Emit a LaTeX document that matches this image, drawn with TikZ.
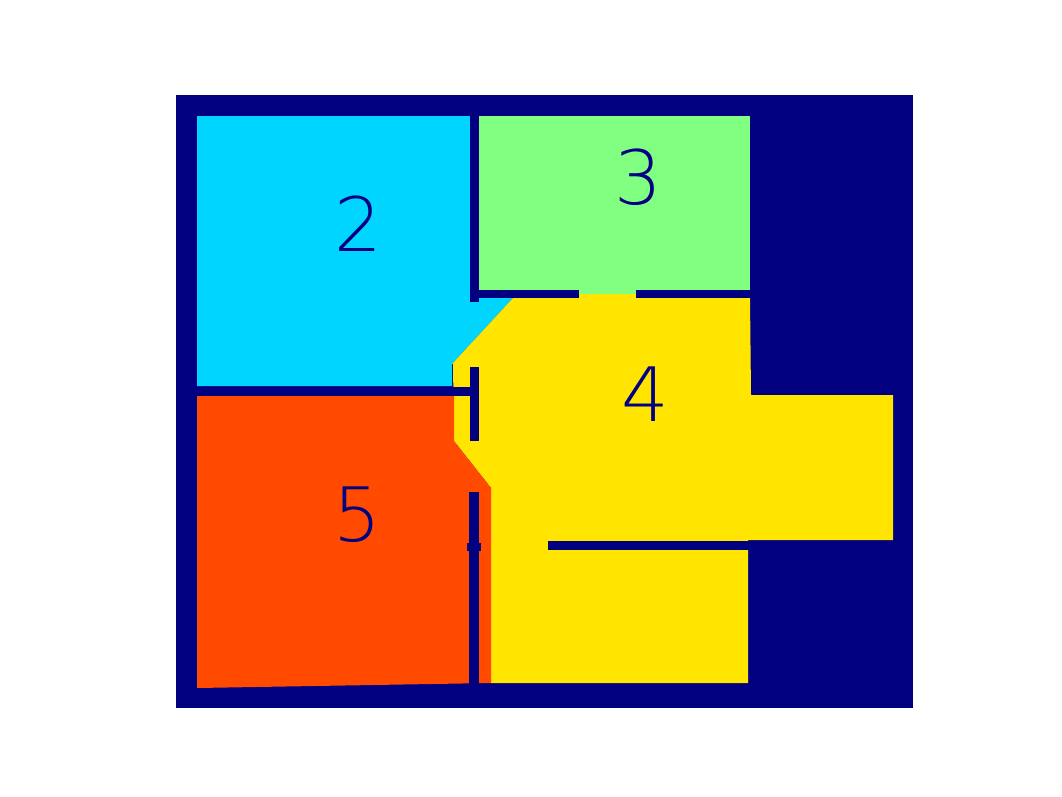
\documentclass[tikz,border=0pt]{standalone}
\usepackage{fontspec}
\newfontfamily\digitfont{DejaVu Sans ExtraLight}
\usepackage{tikz}
\definecolor{wallnavy}{RGB}{0,0,128}
\definecolor{roomcyan}{RGB}{0,213,255}
\definecolor{roomgreen}{RGB}{128,255,128}
\definecolor{roomyellow}{RGB}{255,229,0}
\definecolor{roomorange}{RGB}{255,74,0}
\begin{document}
\begin{tikzpicture}[x=1pt, y=-1pt, every node/.style={text=wallnavy, inner sep=0pt, font=\digitfont\fontsize{75}{75}\selectfont}]
                    \useasboundingbox (0,0) rectangle (1062,796);
                    % floor plan background (walls)
                    \fill[wallnavy] (176,95) rectangle (913,708);
                    % rooms
                    \fill[roomcyan] (197,116) -- (470,116) -- (470,298) -- (513,298) -- (452,364) -- (452,386) -- (197,386) -- cycle;
                    \fill[roomgreen] (479,116) rectangle (750,290);
                    \fill[roomgreen] (579,289) rectangle (636,294);
                    \fill[roomyellow] (513,298) -- (750,298) -- (751,395) -- (893,395) -- (893,540) -- (748,540) -- (748,683) -- (491,683) -- (491,488) -- (454,441) -- (453,364) -- (452,364) -- cycle;
                    \fill[roomyellow] (579,294) rectangle (636,298);
                    \fill[roomorange] (197,396) -- (454,396) -- (454,441) -- (491,488) -- (491,683) -- (197,688) -- cycle;
                    % inner walls
                    \fill[wallnavy] (470,116) rectangle (479,302);
                    \fill[wallnavy] (479,290) rectangle (579,298);
                    \fill[wallnavy] (636,290) rectangle (750,298);
                    \fill[wallnavy] (440,387) rectangle (470,396);
                    \fill[wallnavy] (470,367) rectangle (479,441);
                    \fill[wallnavy] (469,492) rectangle (479,690);
                    \fill[wallnavy] (467,543) rectangle (481,551);
                    \fill[wallnavy] (548,541) rectangle (757,550);
                    % room labels
                    \node (two) at (358,224) {2};
                    \node (three) at (638,177) {3};
                    \node (four) at (645,394) {4};
                    \node (five) at (357,515) {5};
                \end{tikzpicture}
\end{document}
